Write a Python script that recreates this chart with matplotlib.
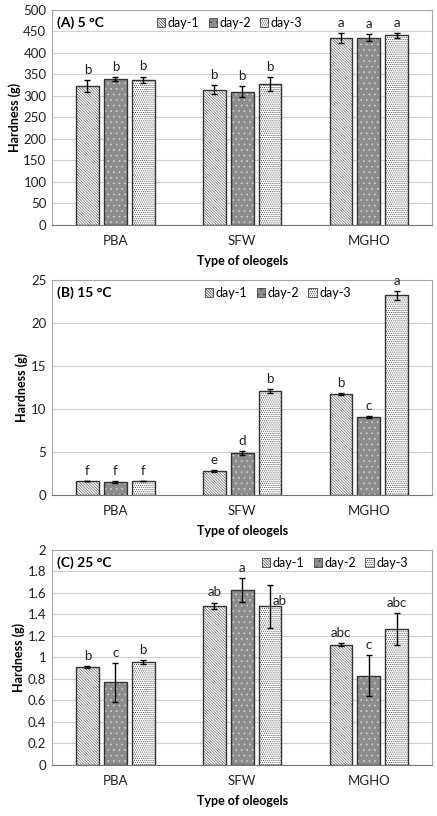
import matplotlib.pyplot as plt
import numpy as np

plt.rcParams['font.family'] = ['Lato', 'DejaVu Sans']
plt.rcParams['hatch.linewidth'] = 0.5

categories = ['PBA', 'SFW', 'MGHO']
days = ['day-1', 'day-2', 'day-3']

# (A) 5 °C
a_vals = [[323, 315, 435], [339, 310, 435], [338, 327, 441]]
a_err = [[14, 11, 12], [5, 13, 8], [7, 16, 6]]
a_lbl = [['b', 'b', 'a'], ['b', 'b', 'a'], ['b', 'b', 'a']]

# (B) 15 °C
b_vals = [[1.6, 2.8, 11.7], [1.5, 4.9, 9.1], [1.6, 12.1, 23.2]]
b_err = [[0.03, 0.1, 0.1], [0.07, 0.25, 0.1], [0.03, 0.25, 0.5]]
b_lbl = [['f', 'e', 'b'], ['f', 'd', 'c'], ['f', 'b', 'a']]

# (C) 25 °C
c_vals = [[0.91, 1.48, 1.12], [0.77, 1.63, 0.83], [0.955, 1.475, 1.265]]
c_err = [[0.01, 0.03, 0.015], [0.18, 0.11, 0.19], [0.02, 0.2, 0.15]]
c_lbl = [['b', 'ab', 'abc'], ['c', 'a', 'c'], ['b', 'ab', 'abc']]

panels = [
    ('(A) 5 °C', a_vals, a_err, a_lbl, 500, 50, 0.276),
    ('(B) 15 °C', b_vals, b_err, b_lbl, 25, 5, 0.403),
    ('(C) 25 °C', c_vals, c_err, c_lbl, 2, 0.2, 0.553),
]
bottoms = [0.7243, 0.3934, 0.0625]

# letter label nudges (points), keyed by (panel, day, category)
nudges = {(2, 2, 1): (7, -19)}

# fill, hatch, hatch colour
styles = [('white', '\\' * 12, '#6a6a6a'),
          ('#8c8c8c', '...', '#d0d0d0'),
          ('white', '.' * 8, '#555555')]

fig = plt.figure(figsize=(4.37, 8.16), dpi=100)
x = np.arange(len(categories))
offsets = [-0.22, 0, 0.22]
w = 0.18

for p, ((title, vals, errs, lbls, ymax, step, legx), bot) in enumerate(zip(panels, bottoms)):
    ax = fig.add_axes([0.119, bot, 0.87, 0.2635])
    handles = []
    for i in range(3):
        fc, hatch, hc = styles[i]
        xs = x + offsets[i]
        ax.bar(xs, vals[i], w, color=fc, hatch=hatch, edgecolor=hc,
               linewidth=0, zorder=2)
        ax.bar(xs, vals[i], w, fill=False, edgecolor='#333333',
               linewidth=1, zorder=3)
        ax.errorbar(xs, vals[i], yerr=errs[i], fmt='none', ecolor='black',
                    elinewidth=1, capsize=2.5, capthick=1, zorder=4)
        for j, (xi, v, e, t) in enumerate(zip(xs, vals[i], errs[i], lbls[i])):
            dx, dy = nudges.get((p, i, j), (0, 0))
            ax.annotate(t, (xi, v + e), xytext=(dx, 3 + dy), textcoords='offset points',
                        ha='center', va='bottom', fontsize=9.5, color='#222222',
                        zorder=5)
        h = plt.Rectangle((0, 0), 1, 1, facecolor=fc, hatch=hatch,
                          edgecolor='#444444', linewidth=0.6)
        handles.append(h)
    ax.set_xlim(-0.5, 2.5)
    ax.set_ylim(0, ymax)
    ax.set_yticks(np.arange(0, ymax + step / 2, step))
    if step < 1:
        ax.set_yticklabels(['%g' % round(t, 1) for t in np.arange(0, ymax + step / 2, step)])
    ax.set_xticks(x)
    ax.set_xticklabels(categories)
    ax.tick_params(length=0, labelsize=9.5, pad=7, colors='#222222')
    ax.tick_params(axis='y', pad=4)
    ax.yaxis.grid(True, color='#d0d0d0', linewidth=0.8, zorder=0)
    ax.set_axisbelow(True)
    for s in ax.spines.values():
        s.set_color('#a6a6a6')
        s.set_linewidth(0.8)
    ax.spines['bottom'].set_color('#777777')
    ax.set_ylabel('Hardness (g)', fontsize=9, fontweight='bold', labelpad=2)
    ax.set_xlabel('Type of oleogels', fontsize=9, fontweight='bold', labelpad=6)
    ax.text(0.012, 0.94, title, transform=ax.transAxes, fontsize=10,
            fontweight='bold', va='center', ha='left')
    ax.legend(handles, days, loc='center left', bbox_to_anchor=(legx, 0.94),
              ncol=3, frameon=False, fontsize=9, handlelength=0.65,
              handleheight=0.65, handletextpad=0.2, columnspacing=0.75,
              borderaxespad=0, borderpad=0)

fig.savefig('out.png', dpi=100)
